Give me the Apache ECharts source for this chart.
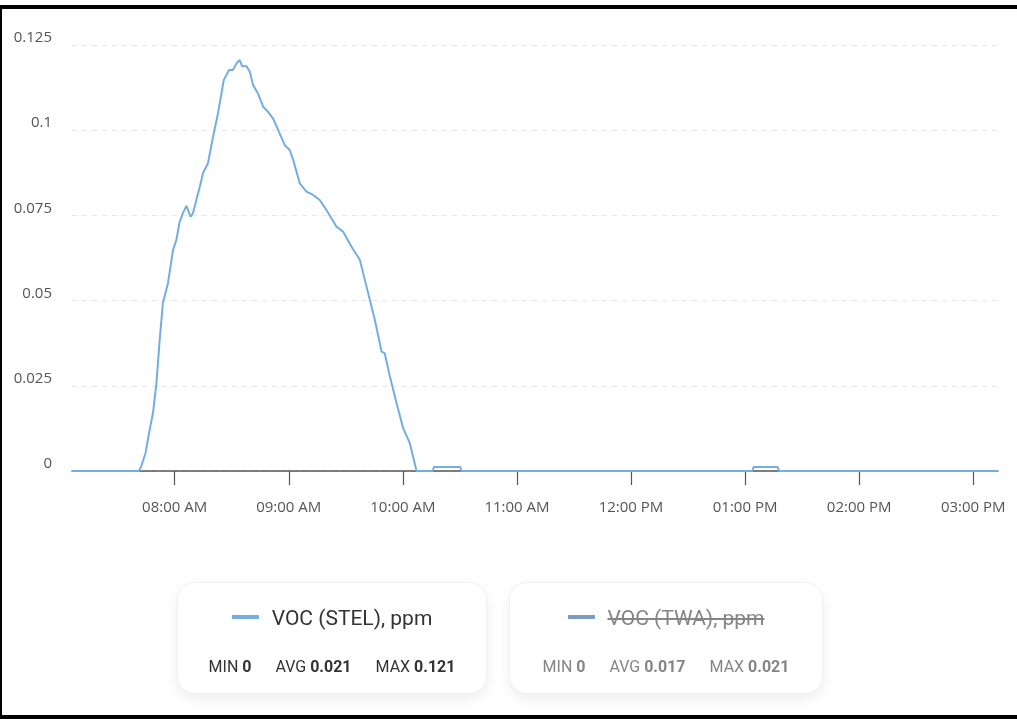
<!DOCTYPE html>
<html>
<head>
<meta charset="utf-8">
<script src="https://cdn.jsdelivr.net/npm/echarts@6/dist/echarts.min.js"></script>
<style>
  html, body { margin: 0; padding: 0; background: #fff; }
  #wrap { position: relative; width: 1017px; height: 719px; overflow: hidden; background: #fff; }
  #chart { position: absolute; left: 0; top: 0; width: 1017px; height: 719px; }
  .bar { position: absolute; background: #000; }
  .card { position: absolute; top: 582px; height: 112px; background: #fff; border-radius: 18px;
          border: 1px solid #f1f1f1; box-shadow: 0 5px 14px rgba(0,0,0,0.07); box-sizing: border-box;
          font-family: Roboto, "Open Sans", sans-serif; }
  .leg { position: absolute; left: 0; right: 0; top: 23px; text-align: center; font-size: 21px; color: #333; white-space: nowrap; }
  .leg .sw { display: inline-block; width: 27px; height: 4px; vertical-align: middle; margin-right: 13px; position: relative; top: -2px; }
  .stats { position: absolute; left: 0; right: 0; top: 74px; text-align: center; font-size: 16px; color: #333; white-space: nowrap; }
  .stats span.item { margin: 0 12px; }
  .stats b { font-weight: 700; }
  .off .leg, .off .stats { color: #858585; }
  .off .leg .txt { text-decoration: line-through; text-decoration-thickness: 1.5px; }
</style>
</head>
<body>
<div id="wrap">
  <div id="chart"></div>
  <div class="bar" style="left:0;top:5px;width:1017px;height:4px;"></div>
  <div class="bar" style="left:0;top:5px;width:2px;height:714px;"></div>
  <div class="bar" style="left:0;top:715px;width:1017px;height:4px;"></div>
  <div class="card" id="card1" style="left:177px;width:310px;">
    <div class="leg"><span class="sw" id="sw1"></span><span class="txt" id="name1"></span></div>
    <div class="stats" id="stats1"></div>
  </div>
  <div class="card off" id="card2" style="left:509px;width:314px;">
    <div class="leg"><span class="sw" id="sw2"></span><span class="txt" id="name2"></span></div>
    <div class="stats" id="stats2"></div>
  </div>
</div>
<script>
// ---- data ----
var seriesNames = ['VOC (STEL), ppm', 'VOC (TWA), ppm'];
var seriesColors = ['#74aee0', '#7e9ac6'];
var tickMinutes = [480, 540, 600, 660, 720, 780, 840, 900];
var tickLabels = ['08:00 AM', '09:00 AM', '10:00 AM', '11:00 AM', '12:00 PM', '01:00 PM', '02:00 PM', '03:00 PM'];
var yTicks = [0, 0.025, 0.05, 0.075, 0.1, 0.125];
// minutes since midnight
var stelTimes = [426, 461.2, 462.3, 463.3, 464.7, 466.8, 468.6, 470.4, 472.1, 473.8, 476.5, 479.1, 480.9, 482.6,
  484.4, 486.2, 487.0, 488.3, 489.6, 493.2, 494.9, 497.5, 500.2, 502.8, 505.8, 508.6, 510.7, 512.5, 514.2,
  515.4, 517.7, 519.5, 521.2, 523.8, 526.5, 529.1, 531.7, 534.4, 537.9, 540.5, 542.3, 545.8, 549.3, 552.8,
  556.3, 559.8, 565.1, 568.6, 573.0, 577.4, 580.9, 585.3, 588.8, 590.5, 593.2, 596.7, 600.2, 603.7, 607.2,
  615.6, 616.4, 630.1, 630.9, 783.7, 784.5, 797.1, 797.9, 913];
var stelValues = [0, 0, 0.0012, 0.0013, 0.0053, 0.012, 0.017, 0.0258, 0.0384, 0.0493, 0.0552, 0.0648, 0.0678, 0.0731,
  0.0758, 0.0778, 0.0777, 0.0746, 0.0756, 0.0834, 0.0874, 0.0903, 0.0981, 0.105, 0.1147, 0.1177, 0.1177, 0.1196, 0.1206,
  0.1188, 0.1188, 0.1172, 0.1133, 0.1108, 0.1069, 0.1054, 0.1035, 0.1001, 0.0956, 0.0942, 0.0913, 0.0844, 0.0820, 0.0810,
  0.0795, 0.0766, 0.0717, 0.0702, 0.0658, 0.0619, 0.0541, 0.0443, 0.0350, 0.0345, 0.0277, 0.0199, 0.0125, 0.0081, 0,
  0, 0.0012, 0.0012, 0, 0, 0.0012, 0.0012, 0, 0];
var statLabels = ['MIN', 'AVG', 'MAX'];
var stelStats = ['0', '0.021', '0.121'];
var twaStats = ['0', '0.017', '0.021'];

// ---- build ----
var stelData = stelTimes.map(function (t, i) { return [t, stelValues[i]]; });

var chart = echarts.init(document.getElementById('chart'), null, { renderer: 'canvas' });
chart.setOption({
  animation: false,
  backgroundColor: 'transparent',
  legend: { show: false, selected: { 'VOC (TWA), ppm': false } },
  grid: { left: 72, right: 19, top: 45, bottom: 248, containLabel: false },
  xAxis: {
    type: 'value', min: 426, max: 913,
    splitLine: { show: false },
    axisLine: { show: true, lineStyle: { color: '#555', width: 1.5 } },
    axisTick: { show: true, length: 14, lineStyle: { color: '#555', width: 1.2 }, customValues: tickMinutes },
    axisLabel: {
      customValues: tickMinutes, margin: 29, color: '#555', fontSize: 15,
      fontFamily: '"Open Sans", "Noto Sans", sans-serif',
      formatter: function (v) { var i = tickMinutes.indexOf(v); return i >= 0 ? tickLabels[i] : ''; }
    }
  },
  yAxis: {
    type: 'value', min: yTicks[0], max: yTicks[yTicks.length - 1], interval: 0.025,
    axisLine: { show: false }, axisTick: { show: false },
    splitLine: { show: true, lineStyle: { color: '#e6e6e6', type: [5, 5], width: 1 } },
    axisLabel: { color: '#555', fontSize: 15, margin: 20, verticalAlign: 'bottom', lineHeight: 14,
      fontFamily: '"Open Sans", "Noto Sans", sans-serif' }
  },
  series: [
    { name: seriesNames[0], type: 'line', data: stelData, showSymbol: false, smooth: false, z: 5,
      lineStyle: { color: seriesColors[0], width: 2 }, itemStyle: { color: seriesColors[0] } },
    { name: seriesNames[1], type: 'line', data: [], showSymbol: false,
      lineStyle: { color: seriesColors[1], width: 2 }, itemStyle: { color: seriesColors[1] } }
  ]
});

function statsHtml(vals) {
  return statLabels.map(function (l, i) { return '<span class="item">' + l + ' <b>' + vals[i] + '</b></span>'; }).join('');
}
document.getElementById('sw1').style.background = seriesColors[0];
document.getElementById('sw2').style.background = seriesColors[1];
document.getElementById('name1').textContent = seriesNames[0];
document.getElementById('name2').textContent = seriesNames[1];
document.getElementById('stats1').innerHTML = statsHtml(stelStats);
document.getElementById('stats2').innerHTML = statsHtml(twaStats);
</script>
</body>
</html>
